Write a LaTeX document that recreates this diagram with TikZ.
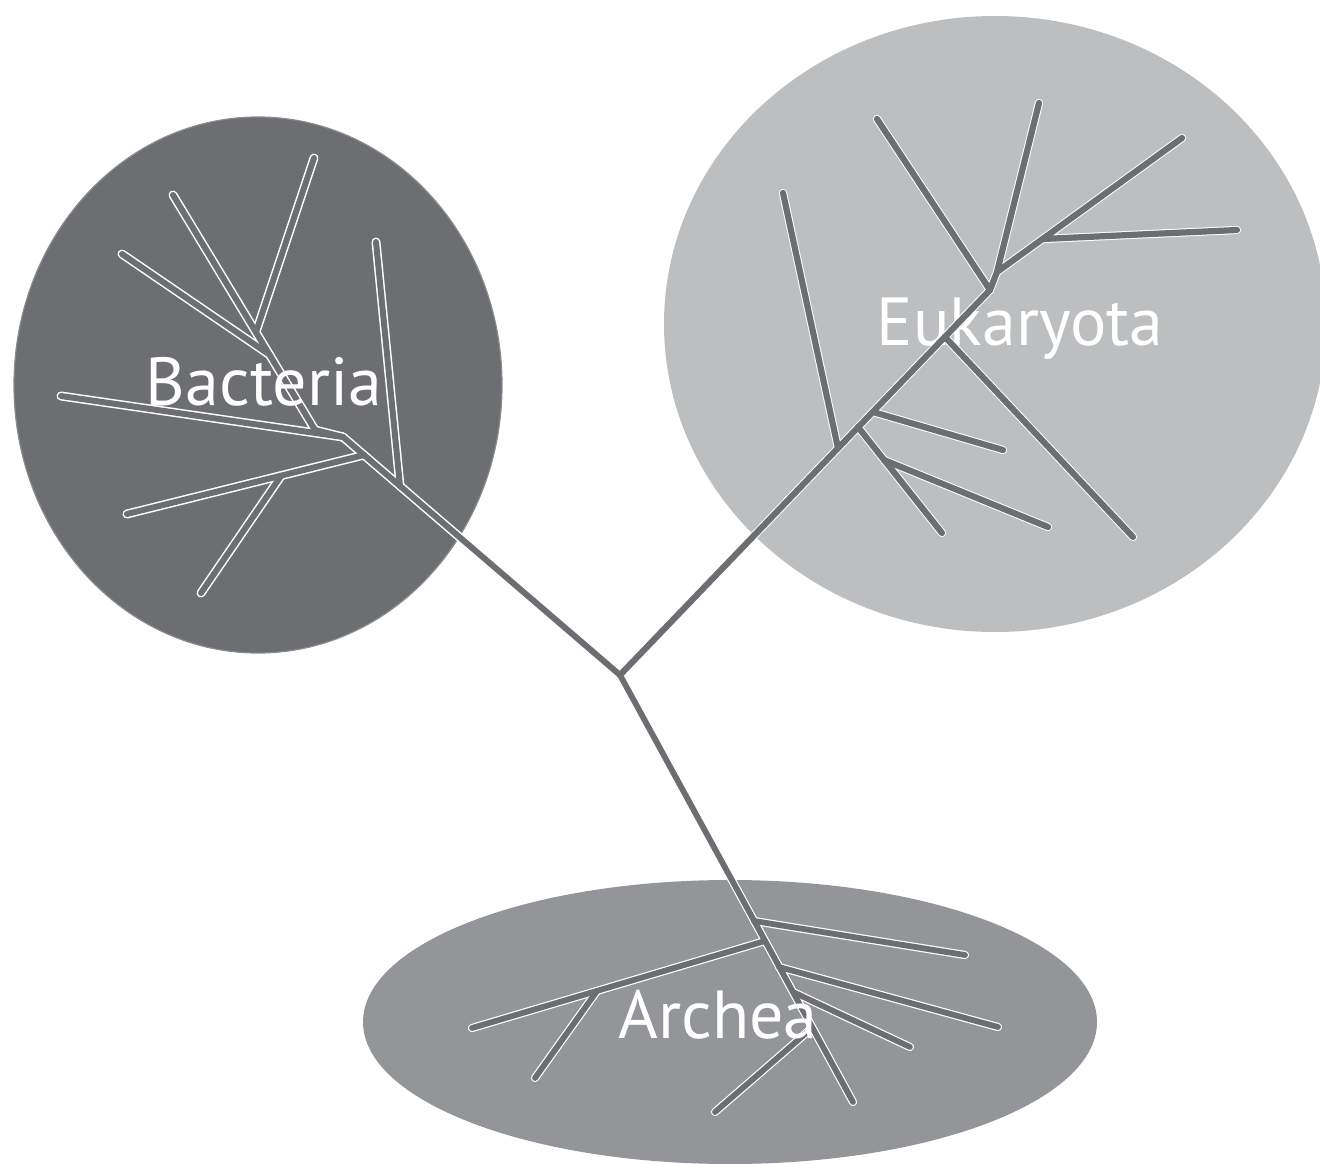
\documentclass[tikz,border=0pt]{standalone}
\usepackage{fontspec}
\setmainfont{PT Sans}
\definecolor{bactfill}{HTML}{6D6E71}
\definecolor{eukfill}{HTML}{BCBEC0}
\definecolor{archfill}{HTML}{939598}
\definecolor{branchcol}{HTML}{6D6E71}
\definecolor{rimcol}{HTML}{8A8B8E}
\begin{document}
\begin{tikzpicture}[x=1pt,y=-1pt,
  halo/.style={draw=white,line width=#1,line cap=round,line join=round},
  core/.style={draw=branchcol,line width=#1,line cap=round,line join=round},
  domlabel/.style={text=white,font=\fontsize{68}{80}\selectfont,anchor=base,inner sep=0pt}]
\useasboundingbox (0,0) rectangle (1320,1164);
% domains
\fill[bactfill, draw=rimcol, line width=1.2pt] (258,385) ellipse [x radius=244, y radius=268];
\fill[eukfill] (995,324) ellipse [x radius=331, y radius=308];
\fill[archfill] (730,1022) ellipse [x radius=367, y radius=142];
% coordinates
\coordinate (R) at (620,675);
% bacteria
\coordinate (bJ1) at (343,437);
\coordinate (bJ2) at (364,455);
\coordinate (bJ3) at (400,486);
\coordinate (bV) at (376,242);
\coordinate (bLL) at (127,514);
\coordinate (bSub) at (281,476);
\coordinate (bSubEnd) at (201,593);
\coordinate (bL) at (61,396);
\coordinate (bK) at (315,430);
\coordinate (bD1) at (270,355);
\coordinate (bD2) at (256,332);
\coordinate (bTL) at (173,195);
\coordinate (bT) at (314,158);
\coordinate (bUL) at (122,254);
% eukaryota
\coordinate (eTop) at (990,290);
\coordinate (eJ) at (997,272);
\coordinate (eT) at (1039,103);
\coordinate (eUR) at (1182,138);
\coordinate (eRJ) at (1043,239);
\coordinate (eR) at (1237,230);
\coordinate (eUL) at (877,119);
\coordinate (e4) at (945,337);
\coordinate (eLong) at (1133,537);
\coordinate (e3) at (873,412);
\coordinate (e3End) at (1003,450);
\coordinate (e2) at (858,427);
\coordinate (e2End) at (942,533);
\coordinate (eSub) at (884,460);
\coordinate (eSubEnd) at (1048,527);
\coordinate (e1) at (838,448);
\coordinate (eL) at (783,193);
% archea
\coordinate (aEnd) at (853,1102);
\coordinate (a1) at (754,921);
\coordinate (a1End) at (965,955);
\coordinate (a2) at (765,941);
\coordinate (a2End) at (472,1028);
\coordinate (aSub) at (597,991);
\coordinate (aSubEnd) at (535,1078);
\coordinate (a3) at (779,967);
\coordinate (a3End) at (998,1027);
\coordinate (a4) at (793,992);
\coordinate (a4End) at (910,1047);
\coordinate (a5) at (812,1028);
\coordinate (a5End) at (715,1112);
% label under the eukaryote lines
\node[domlabel] (eukLabel) at (1020,345) {Eukaryota};
% tree paths
\def\bactpaths#1{%
  \draw[#1] (R) -- (bJ1);
  \draw[#1] (bJ1) -- (bK) -- (bTL);
  \draw[#1] (bD2) -- (bT);
  \draw[#1] (bD1) -- (bUL);
  \draw[#1] (bJ1) -- (bL);
  \draw[#1] (bJ2) -- (bLL);
  \draw[#1] (bSub) -- (bSubEnd);
  \draw[#1] (bJ3) -- (bV);}
\def\eukpaths#1{%
  \draw[#1] (R) -- (eTop) -- (eJ) -- (eT);
  \draw[#1] (eJ) -- (eUR);
  \draw[#1] (eRJ) -- (eR);
  \draw[#1] (eTop) -- (eUL);
  \draw[#1] (e4) -- (eLong);
  \draw[#1] (e3) -- (e3End);
  \draw[#1] (e2) -- (e2End);
  \draw[#1] (eSub) -- (eSubEnd);
  \draw[#1] (e1) -- (eL);}
\def\archpaths#1{%
  \draw[#1] (R) -- (aEnd);
  \draw[#1] (a1) -- (a1End);
  \draw[#1] (a2) -- (a2End);
  \draw[#1] (aSub) -- (aSubEnd);
  \draw[#1] (a3) -- (a3End);
  \draw[#1] (a4) -- (a4End);
  \draw[#1] (a5) -- (a5End);}
\bactpaths{halo=9pt}
\eukpaths{halo=8.2pt}
\archpaths{halo=8.2pt}
\bactpaths{core=6pt}
\eukpaths{core=6.2pt}
\archpaths{core=5.8pt}
% labels
\node[domlabel] (bactLabel) at (264,405) {Bacteria};
\node[domlabel] (archLabel) at (718,1038) {Archea};
\end{tikzpicture}
\end{document}
